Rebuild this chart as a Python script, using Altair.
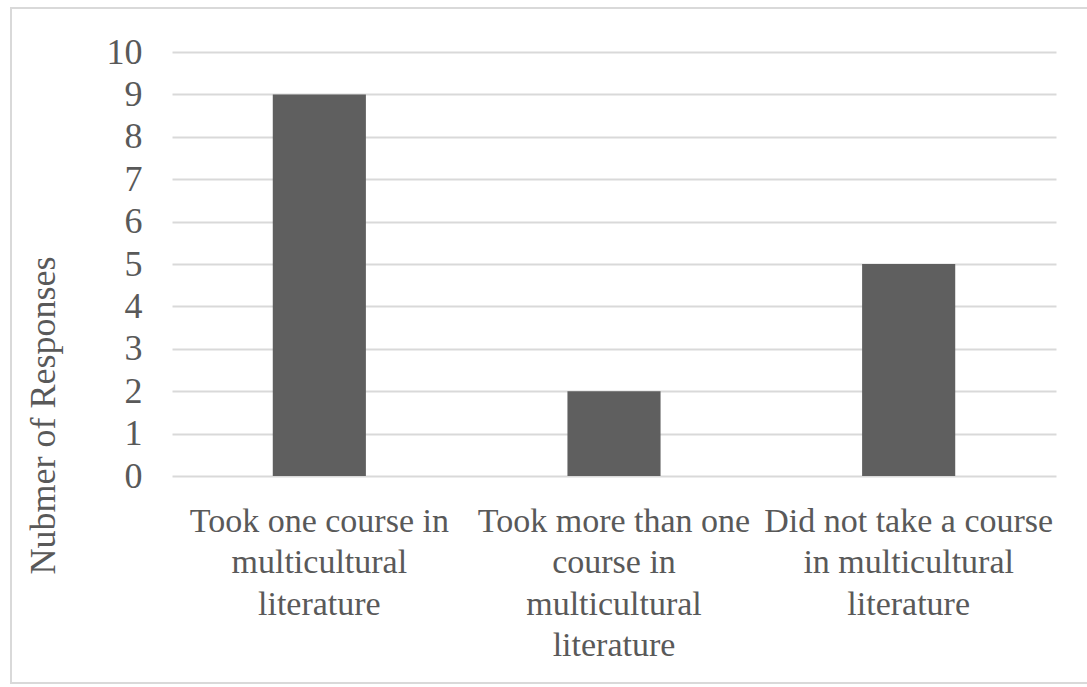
import altair as alt
import pandas as pd

# Survey answers: course-taking in multicultural literature
categories = [
    "Took one course in\nmulticultural\nliterature",
    "Took more than one\ncourse in\nmulticultural\nliterature",
    "Did not take a course\nin multicultural\nliterature",
]
responses = [9, 2, 5]
y_ticks = list(range(0, 11))

df = pd.DataFrame({"category": categories, "responses": responses})

FONT = "'Times New Roman', 'Liberation Serif', 'DejaVu Serif', serif"
TEXT = "#595959"
GRID = "#d9d9d9"
BAR = "#5f5f5f"

W, H = 884, 424
PAD_L, PAD_T = 172, 52

bars = alt.Chart(df).mark_bar(color=BAR).encode(
    x=alt.X(
        "category:N",
        sort=categories,
        scale=alt.Scale(paddingInner=0.684, paddingOuter=0.342),
        axis=alt.Axis(
            title=None,
            labelExpr="split(datum.label, '\\n')",
            labelAngle=0,
            labelFont=FONT,
            labelFontSize=34,
            labelColor=TEXT,
            labelLineHeight=41.5,
            labelPadding=28,
            labelLimit=400,
            labelOverlap=False,
            labelBaseline="top",
            ticks=False,
            domain=False,
            grid=False,
        ),
    ),
    y=alt.Y(
        "responses:Q",
        scale=alt.Scale(domain=[0, 10], nice=False),
        axis=alt.Axis(
            title="Nubmer of Responses",
            values=y_ticks,
            format="d",
            labelFont=FONT,
            labelFontSize=36,
            labelColor=TEXT,
            labelPadding=30,
            titleFont=FONT,
            titleFontSize=36,
            titleFontWeight="normal",
            titleColor=TEXT,
            titleAngle=270,
            titleAlign="center",
            titleBaseline="middle",
            titleX=43 - PAD_L,
            titleY=415 - PAD_T,
            ticks=False,
            domain=False,
            grid=True,
            gridColor=GRID,
            gridWidth=2,
        ),
    ),
)

# Thin frame around the whole figure
frame = alt.Chart(df).mark_rect(fill=None, stroke=GRID, strokeWidth=2).encode(
    x=alt.value(11 - PAD_L),
    x2=alt.value(1092 - PAD_L),
    y=alt.value(8 - PAD_T),
    y2=alt.value(683 - PAD_T),
)

chart = (
    alt.layer(frame, bars)
    .properties(
        width=W,
        height=H,
        autosize=alt.AutoSizeParams(type="none"),
        padding={"left": PAD_L, "top": PAD_T, "right": 1087 - PAD_L - W, "bottom": 687 - PAD_T - H},
        background="white",
    )
    .configure_view(stroke=None)
)

chart.save("out.html", embed_options={"renderer": "svg", "actions": False})
